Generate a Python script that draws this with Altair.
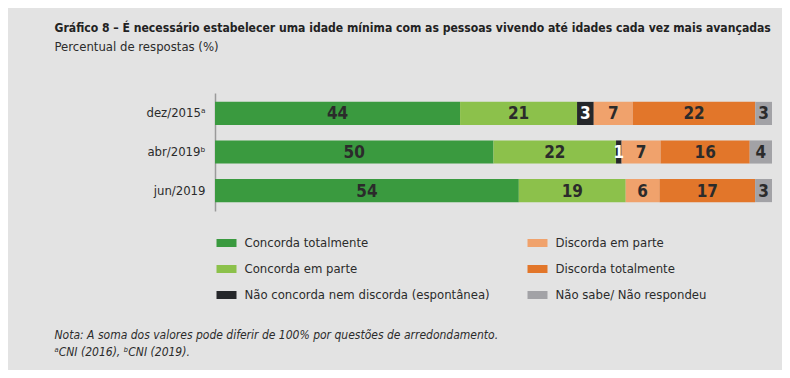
import altair as alt
import pandas as pd

periods = ["dez/2015ᵃ", "abr/2019ᵇ", "jun/2019"]
categories = [
    "Concorda totalmente",
    "Concorda em parte",
    "Não concorda nem discorda (espontânea)",
    "Discorda em parte",
    "Discorda totalmente",
    "Não sabe/ Não respondeu",
]
colors = ["#3a9a3f", "#8cc14b", "#25272a", "#f0a26c", "#e2762a", "#a2a2a6"]
dez_2015 = [44, 21, 3, 7, 22, 3]
abr_2019 = [50, 22, 1, 7, 16, 4]
jun_2019 = [54, 19, 0, 6, 17, 3]

title = "Gráfico 8 – É necessário estabelecer uma idade mínima com as pessoas vivendo até idades cada vez mais avançadas"
subtitle = "Percentual de respostas (%)"
notes = [
    "Nota: A soma dos valores pode diferir de 100% por questões de arredondamento.",
    "ᵃCNI (2016), ᵇCNI (2019).",
]

FONT = "Liberation Sans Narrow, DejaVu Sans Condensed, sans-serif"
TXT = "#2b2b2b"

rows = []
for p, vals in zip(periods, [dez_2015, abr_2019, jun_2019]):
    for i, (c, v) in enumerate(zip(categories, vals)):
        rows.append({"period": p, "category": c, "value": v, "order": i})
df = pd.DataFrame(rows)

base = alt.Chart(df).transform_filter(alt.datum.value > 0).transform_stack(
    stack="value", groupby=["period"], sort=[alt.SortField("order")],
    offset="normalize", as_=["x0", "x1"]
).transform_calculate(mid="(datum.x0 + datum.x1) / 2")

yenc = alt.Y("period:N", sort=periods, title=None,
             scale=alt.Scale(paddingInner=0.4, paddingOuter=0.23),
             axis=alt.Axis(domain=True, domainColor="#9a9a9a", domainWidth=1.5,
                           ticks=False, labelFont=FONT, labelFontSize=13,
                           labelColor=TXT, labelPadding=10))

bars = base.mark_bar().encode(
    x=alt.X("x0:Q", axis=None, scale=alt.Scale(domain=[0, 1], nice=False, zero=True)),
    x2="x1:Q",
    y=yenc,
    color=alt.Color("category:N", scale=alt.Scale(domain=categories, range=colors),
                    legend=alt.Legend(title=None, orient="none", legendX=1.5, legendY=140,
                                      columns=2, columnPadding=37, rowPadding=9,
                                      symbolType="M-1,-0.4H1V0.4H-1Z", symbolSize=400,
                                      symbolStrokeWidth=0, labelFont=FONT, labelFontSize=13,
                                      labelColor=TXT, labelOffset=8, labelLimit=400)),
)

labels = base.mark_text(font=FONT, fontSize=17, fontWeight="bold", baseline="middle", dy=1).encode(
    x=alt.X("mid:Q"),
    y=alt.Y("period:N", sort=periods),
    text=alt.Text("value:Q"),
    color=alt.condition(alt.datum.category == categories[2], alt.value("white"), alt.value(TXT)),
)

note_df = pd.DataFrame({"t": notes, "i": [0, 1]})
note1 = alt.Chart(note_df).transform_filter(alt.datum.i == 0).mark_text(
    font=FONT, fontSize=12, fontStyle="italic", align="left", baseline="middle", color=TXT
).encode(text="t:N", x=alt.value(-160.5), y=alt.value(242))
note2 = alt.Chart(note_df).transform_filter(alt.datum.i == 1).mark_text(
    font=FONT, fontSize=12, fontStyle="italic", align="left", baseline="middle", color=TXT
).encode(text="t:N", x=alt.value(-160.5), y=alt.value(259))

chart = alt.layer(bars, labels, note1, note2).properties(
    width=557, height=118,
    autosize=alt.AutoSizeParams(type="none"),
    padding={"left": 207, "top": 85, "right": 10, "bottom": 159},
    title=alt.TitleParams(title, subtitle=subtitle, anchor="start", frame="group", dx=-160.5,
                          font=FONT, fontSize=12.1, fontWeight="bold", color="#222222",
                          subtitleFont=FONT, subtitleFontSize=13, subtitleColor=TXT,
                          subtitlePadding=7, offset=39, limit=760),
).configure(background="#e3e3e3").configure_view(stroke=None)

chart.save("out.html", embed_options={"renderer": "svg", "actions": False})
